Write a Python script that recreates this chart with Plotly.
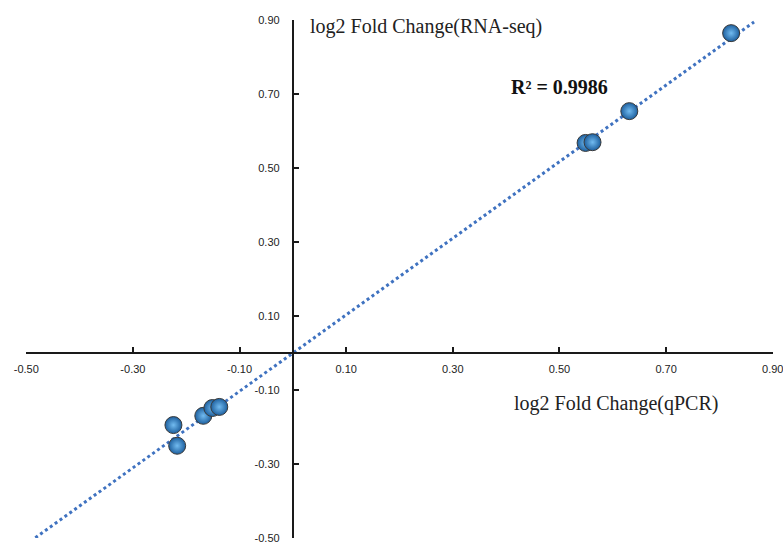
import plotly.graph_objects as go

# Data
qpcr = [0.822, 0.631, 0.549, 0.562, -0.224, -0.217, -0.168, -0.151, -0.138]
rnaseq = [0.865, 0.654, 0.568, 0.570, -0.195, -0.251, -0.170, -0.149, -0.146]
trend_x = [-0.483, 0.865]
trend_y = [-0.500, 0.895]
tick_vals = [-0.5, -0.3, -0.1, 0.1, 0.3, 0.5, 0.7, 0.9]
r2_text = "R² = 0.9986"
x_title = "log2 Fold Change(qPCR)"
y_title = "log2 Fold Change(RNA-seq)"

fig = go.Figure()
fig.add_trace(go.Scatter(
    x=trend_x, y=trend_y, mode="lines",
    line=dict(color="#3f72c0", width=3, dash="dot"),
    hoverinfo="skip", showlegend=False))
fig.add_trace(go.Scatter(
    x=qpcr, y=rnaseq, mode="markers",
    marker=dict(size=17, color="#1d5f9e",
                gradient=dict(type="radial", color="#72bbf0"),
                line=dict(color="#3a3a3a", width=1)),
    showlegend=False, cliponaxis=False))

fig.add_annotation(x=0.50, y=0.719, xref="x", yref="y", text="<b>" + r2_text + "</b>",
                   showarrow=False, font=dict(family="Liberation Serif", size=20, color="#111"))
fig.add_annotation(x=0.029, y=0.884, xref="x", yref="y", text=y_title, xanchor="left",
                   showarrow=False, font=dict(family="Liberation Serif", size=20, color="#222"))
fig.add_annotation(x=0.411, y=-0.138, xref="x", yref="y", text=x_title, xanchor="left",
                   showarrow=False, font=dict(family="Liberation Serif", size=20, color="#222"))

tick_text = ["%.2f" % v for v in tick_vals]
rng = [-0.5005, 0.9005]
fig.update_layout(
    width=783, height=543,
    margin=dict(l=26, r=10, t=20, b=5, autoexpand=False),
    paper_bgcolor="white", plot_bgcolor="white",
    xaxis=dict(range=rng, anchor="free", position=0.5005/1.401, side="bottom",
               showline=True, linecolor="#1a1a1a", linewidth=2, zeroline=False, showgrid=False,
               ticks="inside", ticklen=5, tickwidth=1.5, tickcolor="#1a1a1a",
               tickvals=tick_vals, ticktext=tick_text, ticklabelstandoff=6,
               ticklabeloverflow="allow", automargin=False,
               tickfont=dict(family="Liberation Sans", size=11, color="#222")),
    yaxis=dict(range=rng, anchor="free", position=0.5005/1.401, side="left",
               showline=True, linecolor="#1a1a1a", linewidth=2, zeroline=False, showgrid=False,
               ticks="inside", ticklen=5, tickwidth=1.5, tickcolor="#1a1a1a",
               tickvals=tick_vals, ticktext=tick_text, ticklabelstandoff=10,
               ticklabeloverflow="allow", automargin=False,
               tickfont=dict(family="Liberation Sans", size=11, color="#222")),
)
fig.write_html("out.html")
